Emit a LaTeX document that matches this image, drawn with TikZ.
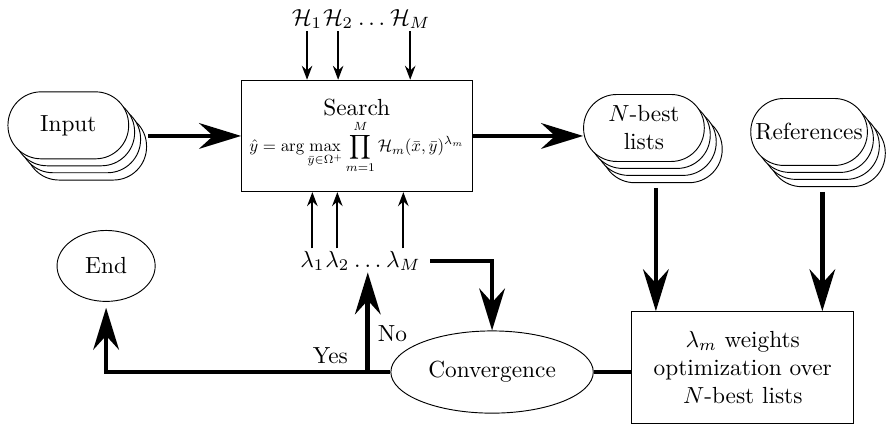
\documentclass[tikz,border=0pt]{standalone}
\usepackage{amsmath}
\usepackage{graphicx}
\usetikzlibrary{arrows.meta,shapes.geometric,shadows}
\begin{document}
\begin{tikzpicture}[
    flow/.style={line width=2pt,-{Stealth[length=18pt,width=11pt,inset=6pt]}},
    link/.style={line width=2pt},
    feed/.style={thick,-{Stealth[length=6pt,width=4.5pt,inset=2pt]}},
    stack/.style={draw,fill=white,rounded corners=0.5cm,align=center,
      minimum width=1.82cm,minimum height=1.01cm,inner xsep=2pt,
      copy shadow={shadow xshift=0.27cm,shadow yshift=-0.32cm,draw=black},
      copy shadow={shadow xshift=0.18cm,shadow yshift=-0.21cm,draw=black},
      copy shadow={shadow xshift=0.09cm,shadow yshift=-0.105cm,draw=black}},
    block/.style={draw,align=center,minimum width=3.35cm,minimum height=1.68cm},
    oval/.style={draw,ellipse},
    sym/.style={inner xsep=0pt,inner ysep=1pt}]
  \useasboundingbox (0,0) rectangle (13.36,6.44);
  \node [stack] (in) at (1.03,4.55) {Input};
  \node [block] (search) at (5.38,4.39) {Search\\[0.3ex]
    \resizebox{3.24cm}{!}{\(\displaystyle \hat{y}=\arg\max_{\bar{y}\in\Omega^+}\prod_{m=1}^{M}\mathcal{H}_m(\bar{x},\bar{y})^{\lambda_m}\)}};
  \node [stack] (nbest) at (9.71,4.51) {\(N\)-best\\lists};
  \node [stack,minimum width=1.75cm] (refs) at (12.2,4.45) {References};
  \node [oval,minimum width=1.48cm,minimum height=1.07cm] (end) at (1.6,2.43) {End};
  \node [oval,minimum width=2.43cm,minimum height=1.24cm] (conv) at (7.42,0.83) {Convergence};
  \node [block] (opt) at (11.2,0.9) {\(\lambda_m\) weights\\optimization over\\\(N\)-best lists};
  % models above the search box
  \node [sym,anchor=base] (h1) at (4.63,6.06) {\(\mathcal{H}_1\)};
  \node [sym,anchor=base west] (h2) at (h1.base east) {\(\mathcal{H}_2\)};
  \node [sym,anchor=base west] (hd) at (h2.base east) {\(\,\dots\,\)};
  \node [sym,anchor=base west] (hm) at (hd.base east) {\(\mathcal{H}_M\)};
  % weights below it
  \node [sym,anchor=base] (l1) at (4.71,2.41) {\(\lambda_1\)};
  \node [sym,anchor=base west] (l2) at (l1.base east) {\(\lambda_2\)};
  \node [sym,anchor=base west] (ld) at (l2.base east) {\(\,\dots\,\)};
  \node [sym,anchor=base west] (lm) at (ld.base east) {\(\lambda_M\)};
  \foreach \n in {h1,h2,hm}
    \draw [feed] (\n.south) -- (\n.south |- search.north);
  \foreach \n in {l1,l2,lm}
    \draw [feed] (\n.north) -- (\n.north |- search.south);
  \draw [flow,shorten <=0.29cm] (in.east |- search.west) -- (search.west);
  \draw [flow] (search.east) -- (search.east -| nbest.west);
  \draw [flow,shorten <=0.39cm] ([xshift=0.18cm]nbest.south) -- ([xshift=0.18cm]nbest.south |- opt.north);
  \draw [flow,shorten <=0.39cm] ([xshift=0.2cm]refs.south) -- ([xshift=0.2cm]refs.south |- opt.north);
  \draw [flow,shorten <=4pt] (lm.east) -| (conv.north);
  \draw [link] (conv.east) -- (conv.east -| opt.west);
  \coordinate (split) at (conv.west -| ld.south);
  \draw [flow,shorten >=2.5pt] (conv.west) -| (end.south);
  \draw [flow,shorten >=1pt] (split) -- node [right,pos=0.38] (no) {No} (ld.south);
  \node [above left,xshift=-5pt] (yes) at (split) {Yes};
\end{tikzpicture}
\end{document}
